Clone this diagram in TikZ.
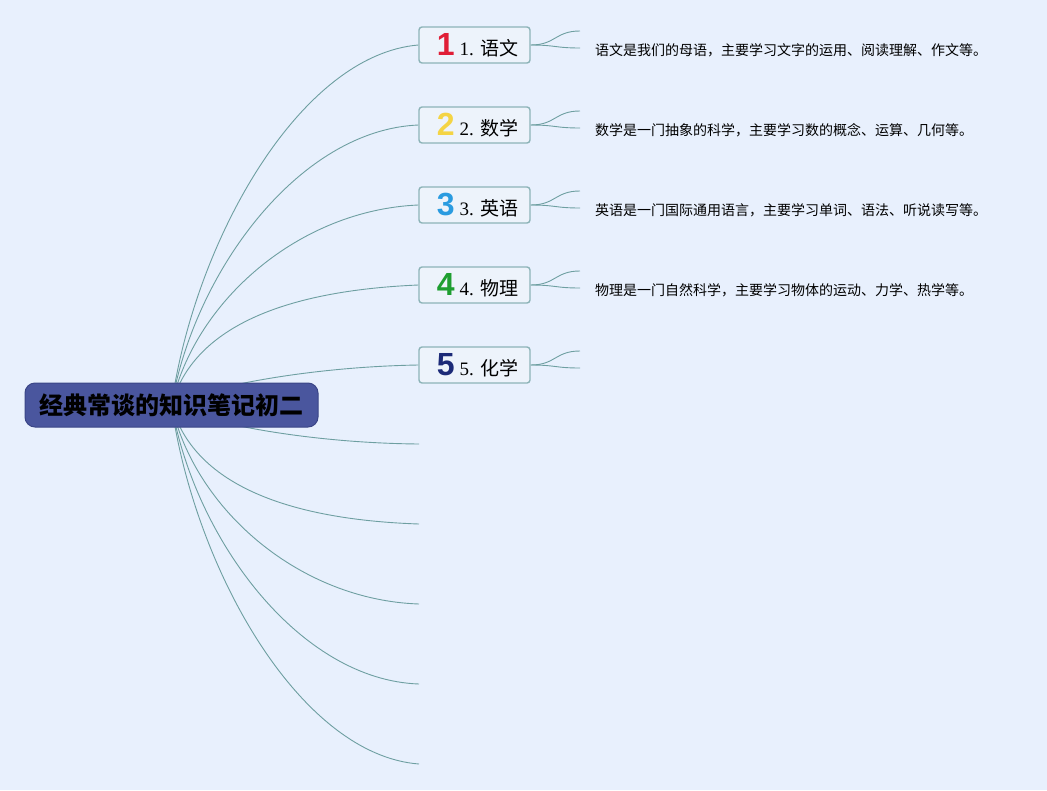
\documentclass[tikz,border=0pt]{standalone}
\usepackage{fontspec}
\setmainfont{Liberation Serif}
\newfontfamily\cjk{Noto Sans CJK SC}
\newfontfamily\numfont{Liberation Sans}
\usetikzlibrary{backgrounds}
\definecolor{fondo}{HTML}{E8F0FD}
\definecolor{raiz}{HTML}{4A569E}
\definecolor{raizborde}{HTML}{3B4687}
\definecolor{rama}{HTML}{6E9FA1}
\definecolor{caja}{HTML}{8DB4B8}
\definecolor{cajafondo}{HTML}{EDF3FB}
\definecolor{num1}{HTML}{E01E37}
\definecolor{num2}{HTML}{F4D444}
\definecolor{num3}{HTML}{2A9BE0}
\definecolor{num4}{HTML}{1E9E30}
\definecolor{num5}{HTML}{1C2A78}

\begin{document}
\begin{tikzpicture}[x=1pt, y=-1pt,
    rama/.style={draw=rama, line width=0.9pt},
    tema/.style={draw=caja, fill=cajafondo, line width=1.4pt, rounded corners=3pt,
        minimum width=111pt, minimum height=36pt, inner sep=0pt},
    nota/.style={anchor=west, inner sep=0pt, font=\cjk\fontsize{14}{16}\selectfont}]
    \useasboundingbox (0,0) rectangle (1047,790);

    % Nodo central
    \node[fill=raiz, draw=raizborde, line width=1pt, rounded corners=10pt,
        minimum width=293pt, minimum height=44pt,
        font=\cjk\bfseries\fontsize{24}{28}\selectfont] (root) at (171.5,405) {经典常谈的知识笔记初二};

    % Temas
    \foreach \i/\y/\txt in {1/45/语文, 2/125/数学, 3/205/英语, 4/285/物理, 5/365/化学} {
        \node[tema] (t\i) at (474.5,\y)
            {\hspace{6pt}{\numfont\bfseries\fontsize{32}{32}\selectfont\color{num\i}\i}\hspace{5pt}{\fontsize{19}{20}\selectfont\i. {\cjk\txt}}};
        \coordinate (s\i a) at (580,\y-14);
        \coordinate (s\i b) at (580,\y+3);
    }

    % Notas de cada tema
    \node[nota] (d1) at (595,50) {语文是我们的母语，主要学习文字的运用、阅读理解、作文等。};
    \node[nota] (d2) at (595,130) {数学是一门抽象的科学，主要学习数的概念、运算、几何等。};
    \node[nota] (d3) at (595,210) {英语是一门国际通用语言，主要学习单词、语法、听说读写等。};
    \node[nota] (d4) at (595,290) {物理是一门自然科学，主要学习物体的运动、力学、热学等。};

    \begin{scope}[on background layer]
        \fill[fondo] (0,0) rectangle (1047,790);

        % Ramas hacia los temas
        \foreach \i/\ca/\cb in {1/240/55, 2/270/130, 3/300/210, 4/320/290, 5/390/367} {
            \draw[rama] (root.center) .. controls (195,\ca) and (300,\cb) .. (t\i.west);
            \draw[rama] (t\i.east) .. controls +(25,0) and +(-25,0) .. (s\i a);
            \draw[rama] (t\i.east) .. controls +(25,0) and +(-25,0) .. (s\i b);
        }

        % Ramas vacias
        \foreach \i/\y/\ca/\cb in {1/444/420/443, 2/524/490/520, 3/604/510/600, 4/684/540/680, 5/764/570/755} {
            \coordinate (e\i) at (419,\y);
            \draw[rama] (root.center) .. controls (195,\ca) and (300,\cb) .. (e\i);
        }
    \end{scope}
\end{tikzpicture}
\end{document}
